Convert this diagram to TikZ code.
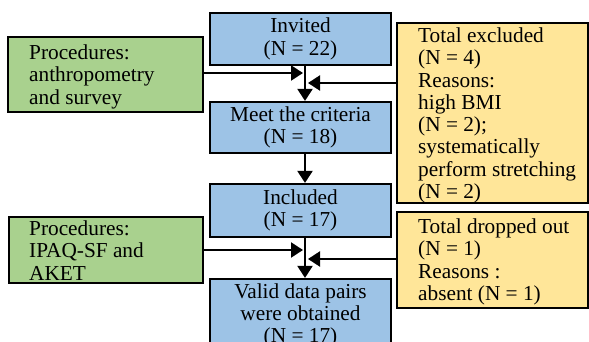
\documentclass[tikz,border=0pt]{standalone}
\usepackage{fontspec}
\setmainfont{Liberation Serif}
\usetikzlibrary{arrows.meta}
\definecolor{boxblue}{HTML}{9DC3E6}
\definecolor{boxgreen}{HTML}{A9D18E}
\definecolor{boxyellow}{HTML}{FFE699}
\begin{document}
\begin{tikzpicture}[x=1pt,y=-1pt,
  box/.style={draw=black, line width=2.2pt, inner sep=0pt},
  bluebox/.style={box, fill=boxblue, minimum width=181pt, align=center,
    font=\fontsize{21.3}{22.3}\selectfont},
  greenbox/.style={box, fill=boxgreen},
  yellowbox/.style={box, fill=boxyellow},
  txt/.style={inner sep=0pt, align=left, anchor=north west,
    font=\fontsize{21.3}{22.3}\selectfont},
  arr/.style={line width=2.2pt, -{Triangle[length=12pt,width=15pt]}}
]
\useasboundingbox (0,0) rectangle (589,342);
\clip (0,0) rectangle (589,342);
% main column
\node[bluebox, minimum height=52pt] (inv) at (300.5,39) {Invited\\(N = 22)};
\node[bluebox, minimum height=51pt] (meet) at (300.5,127.5) {Meet the criteria\\(N = 18)};
\node[bluebox, minimum height=53pt] (inc) at (300.5,210.5) {Included\\(N = 17)};
\node[bluebox, minimum height=73pt] (valid) at (300.5,315.5) {Valid data pairs\\were obtained\\(N = 17)};
% side boxes
\node[greenbox, minimum width=195pt, minimum height=75pt] (g1) at (105.5,74.5) {};
\node[txt] (g1t) at (29,44.5) {Procedures:\\anthropometry\\and survey};
\node[yellowbox, minimum width=191pt, minimum height=180pt] (y1) at (492.5,113) {};
\node[txt] (y1t) at (418,27.5) {Total excluded\\(N = 4)\\Reasons:\\high BMI\\(N = 2);\\systematically\\perform stretching\\(N = 2)};
\node[greenbox, minimum width=194pt, minimum height=66pt] (g2) at (106,250) {};
\node[txt] (g2t) at (29,220.5) {Procedures:\\IPAQ-SF and\\AKET};
\node[yellowbox, minimum width=191pt, minimum height=96pt] (y2) at (492.5,260) {};
\node[txt] (y2t) at (418,218.5) {Total dropped out\\(N = 1)\\Reasons :\\absent (N = 1)};
% junction coordinates
\coordinate (vx) at (305,0);
\coordinate (j1g) at (303,73);
\coordinate (j1y) at (308,83);
\coordinate (j2g) at (303,250);
\coordinate (j2y) at (308,259);
% connectors
\draw[arr] (inv.south -| vx) -- (meet.north -| vx);
\draw[arr] (meet.south -| vx) -- (inc.north -| vx);
\draw[arr] (inc.south -| vx) -- (valid.north -| vx);
\draw[arr] (g1.east |- j1g) -- (j1g);
\draw[arr] (y1.west |- j1y) -- (j1y);
\draw[arr] (g2.east |- j2g) -- (j2g);
\draw[arr] (y2.west |- j2y) -- (j2y);
\end{tikzpicture}
\end{document}
